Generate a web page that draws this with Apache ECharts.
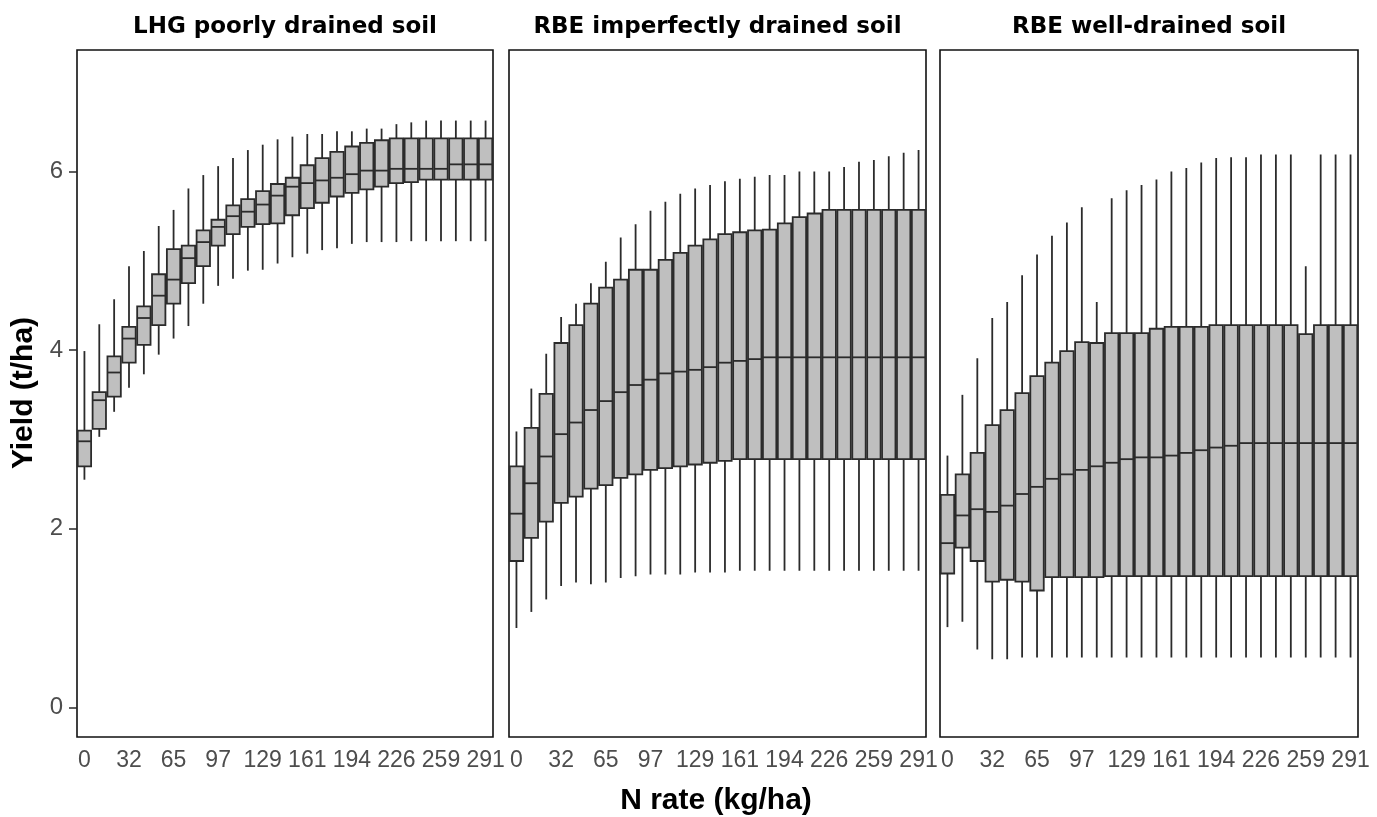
<!DOCTYPE html>
<html>
<head>
<meta charset="utf-8">
<title>N rate boxplots</title>
<script src="https://cdn.jsdelivr.net/npm/echarts@6/dist/echarts.min.js"></script>
<style>
  html, body { margin: 0; padding: 0; background: #fff; }
  #chart { width: 1377px; height: 817px; }
</style>
</head>
<body>
<div id="chart"></div>
<script>
// N rate categories (kg/ha); every third one is labelled
const nRates = ["0", "11", "22", "32", "43", "54", "65", "75", "86", "97", "108", "118", "129", "140",
  "151", "161", "172", "183", "194", "205", "215", "226", "237", "248", "259", "269", "280", "291"];
const yTicks = [0, 2, 4, 6];
const panelTitles = ["LHG poorly drained soil", "RBE imperfectly drained soil", "RBE well-drained soil"];

// LHG poorly drained soil (t/ha)
const lhgLow = [2.55, 3.03, 3.31, 3.58, 3.73, 3.95, 4.13, 4.27, 4.52, 4.72, 4.80, 4.89, 4.90, 4.97,
  5.04, 5.08, 5.12, 5.14, 5.19, 5.21, 5.21, 5.21, 5.22, 5.22, 5.22, 5.22, 5.22, 5.22];
const lhgQ1 = [2.70, 3.12, 3.48, 3.86, 4.06, 4.28, 4.52, 4.75, 4.94, 5.17, 5.30, 5.38, 5.41, 5.42,
  5.51, 5.59, 5.65, 5.72, 5.76, 5.80, 5.83, 5.87, 5.88, 5.91, 5.91, 5.91, 5.91, 5.91];
const lhgMed = [2.98, 3.44, 3.75, 4.13, 4.36, 4.61, 4.79, 5.03, 5.21, 5.38, 5.50, 5.55, 5.63, 5.73,
  5.83, 5.87, 5.90, 5.93, 5.97, 6.01, 6.01, 6.03, 6.03, 6.03, 6.03, 6.08, 6.08, 6.08];
const lhgQ3 = [3.10, 3.53, 3.93, 4.26, 4.49, 4.85, 5.13, 5.17, 5.34, 5.46, 5.62, 5.69, 5.78, 5.86,
  5.93, 6.07, 6.15, 6.22, 6.28, 6.32, 6.35, 6.37, 6.37, 6.37, 6.37, 6.37, 6.37, 6.37];
const lhgHigh = [3.99, 4.29, 4.57, 4.94, 5.11, 5.39, 5.57, 5.81, 5.96, 6.06, 6.15, 6.24, 6.30, 6.36,
  6.39, 6.42, 6.42, 6.45, 6.45, 6.48, 6.48, 6.53, 6.55, 6.57, 6.57, 6.57, 6.57, 6.57];

// RBE imperfectly drained soil (t/ha)
const rbeiLow = [0.89, 1.07, 1.21, 1.36, 1.40, 1.38, 1.40, 1.45, 1.47, 1.49, 1.49, 1.49, 1.51, 1.51,
  1.51, 1.53, 1.53, 1.53, 1.53, 1.53, 1.53, 1.53, 1.53, 1.53, 1.53, 1.53, 1.53, 1.53];
const rbeiQ1 = [1.64, 1.90, 2.08, 2.29, 2.36, 2.45, 2.49, 2.57, 2.61, 2.66, 2.68, 2.70, 2.72, 2.74,
  2.76, 2.78, 2.78, 2.78, 2.78, 2.78, 2.78, 2.78, 2.78, 2.78, 2.78, 2.78, 2.78, 2.78];
const rbeiMed = [2.17, 2.51, 2.81, 3.06, 3.19, 3.33, 3.43, 3.53, 3.61, 3.67, 3.74, 3.76, 3.78, 3.81,
  3.86, 3.88, 3.90, 3.92, 3.92, 3.92, 3.92, 3.92, 3.92, 3.92, 3.92, 3.92, 3.92, 3.92];
const rbeiQ3 = [2.70, 3.13, 3.51, 4.08, 4.28, 4.52, 4.70, 4.79, 4.90, 4.90, 5.01, 5.09, 5.17, 5.24,
  5.30, 5.32, 5.34, 5.35, 5.42, 5.49, 5.53, 5.57, 5.57, 5.57, 5.57, 5.57, 5.57, 5.57];
const rbeiHigh = [3.09, 3.57, 3.96, 4.37, 4.52, 4.75, 4.99, 5.26, 5.41, 5.56, 5.66, 5.75, 5.81, 5.85,
  5.89, 5.92, 5.94, 5.96, 5.96, 6.00, 6.00, 6.00, 6.05, 6.11, 6.13, 6.17, 6.21, 6.24];

// RBE well-drained soil (t/ha)
const rbewLow = [0.90, 0.96, 0.65, 0.54, 0.54, 0.56, 0.56, 0.56, 0.56, 0.56, 0.56, 0.56, 0.56, 0.56,
  0.56, 0.56, 0.56, 0.56, 0.56, 0.56, 0.56, 0.56, 0.56, 0.56, 0.56, 0.56, 0.56, 0.56];
const rbewQ1 = [1.50, 1.79, 1.64, 1.41, 1.43, 1.41, 1.31, 1.46, 1.46, 1.46, 1.46, 1.47, 1.47, 1.47,
  1.47, 1.47, 1.47, 1.47, 1.47, 1.47, 1.47, 1.47, 1.47, 1.47, 1.47, 1.47, 1.47, 1.47];
const rbewMed = [1.84, 2.15, 2.22, 2.19, 2.26, 2.39, 2.47, 2.56, 2.61, 2.66, 2.70, 2.74, 2.78, 2.80,
  2.80, 2.82, 2.85, 2.88, 2.91, 2.93, 2.96, 2.96, 2.96, 2.96, 2.96, 2.96, 2.96, 2.96];
const rbewQ3 = [2.38, 2.61, 2.85, 3.16, 3.33, 3.52, 3.71, 3.86, 3.99, 4.09, 4.08, 4.19, 4.19, 4.19,
  4.24, 4.26, 4.26, 4.26, 4.28, 4.28, 4.28, 4.28, 4.28, 4.28, 4.18, 4.28, 4.28, 4.28];
const rbewHigh = [2.82, 3.50, 3.91, 4.36, 4.54, 4.84, 5.07, 5.28, 5.43, 5.60, 4.54, 5.70, 5.79, 5.85,
  5.91, 6.00, 6.04, 6.10, 6.15, 6.16, 6.16, 6.19, 6.19, 6.19, 4.94, 6.19, 6.19, 6.19];

const panels = [
  [lhgLow, lhgQ1, lhgMed, lhgQ3, lhgHigh],
  [rbeiLow, rbeiQ1, rbeiMed, rbeiQ3, rbeiHigh],
  [rbewLow, rbewQ1, rbewMed, rbewQ3, rbewHigh],
];

const sans = "Liberation Sans, Arial, sans-serif";
const ink = "#2b2b2b";
const gridLefts = [77, 509, 940];
const gridWidths = [416, 417, 418];

function renderBox(params, api) {
  const i = api.value(0);
  const low = api.coord([i, api.value(1)]);
  const q1 = api.coord([i, api.value(2)]);
  const med = api.coord([i, api.value(3)]);
  const q3 = api.coord([i, api.value(4)]);
  const high = api.coord([i, api.value(5)]);
  const w = api.size([1, 0])[0] * 0.9;
  const x0 = med[0] - w / 2;
  const line = { stroke: ink, lineWidth: 1.8 };
  return {
    type: "group",
    children: [
      { type: "line", shape: { x1: low[0], y1: low[1], x2: high[0], y2: high[1] }, style: line },
      {
        type: "rect",
        shape: { x: x0, y: q3[1], width: w, height: q1[1] - q3[1] },
        style: { fill: "#bfbfbf", stroke: ink, lineWidth: 1.8 },
      },
      { type: "line", shape: { x1: x0, y1: med[1], x2: x0 + w, y2: med[1] }, style: line },
    ],
  };
}

const grid = [], xAxis = [], yAxis = [], series = [], graphic = [];
panels.forEach((p, k) => {
  grid.push({
    left: gridLefts[k], width: gridWidths[k], top: 50, height: 687,
    show: true, borderColor: "#111", borderWidth: 1.6,
  });
  xAxis.push({
    type: "category", gridIndex: k, data: nRates,
    axisLine: { show: false },
    axisTick: { interval: 2, alignWithLabel: true, length: 7, lineStyle: { color: ink, width: 1.5 } },
    axisLabel: { interval: 2, fontSize: 23, color: "#4d4d4d", margin: 12, fontFamily: sans },
    splitLine: { show: false },
  });
  yAxis.push({
    type: "value", gridIndex: k, min: -0.33, max: 7.36,
    axisLine: { show: false },
    splitLine: { show: false },
    axisTick: { show: k === 0, length: 8, customValues: yTicks, lineStyle: { color: ink, width: 1.5 } },
    axisLabel: { show: k === 0, customValues: yTicks, fontSize: 24, color: "#4d4d4d", margin: 14, fontFamily: sans },
  });
  series.push({
    type: "custom", xAxisIndex: k, yAxisIndex: k,
    renderItem: renderBox,
    encode: { x: 0, y: [1, 2, 3, 4, 5] },
    data: nRates.map((n, i) => [i, p[0][i], p[1][i], p[2][i], p[3][i], p[4][i]]),
  });
  graphic.push({
    type: "text", x: gridLefts[k] + gridWidths[k] / 2, y: 27,
    style: {
      text: panelTitles[k], fill: "#000", align: "center", verticalAlign: "middle",
      font: "bold 23px 'DejaVu Sans', sans-serif",
    },
  });
});

graphic.push({
  type: "text", x: 716, y: 801,
  style: { text: "N rate (kg/ha)", fill: "#000", align: "center", verticalAlign: "middle", font: "bold 30px " + sans },
});
graphic.push({
  type: "text", x: 24, y: 393, rotation: Math.PI / 2,
  style: { text: "Yield (t/ha)", fill: "#000", align: "center", verticalAlign: "middle", font: "bold 30px " + sans },
});

const chart = echarts.init(document.getElementById("chart"));
chart.setOption({
  animation: false,
  backgroundColor: "#fff",
  grid, xAxis, yAxis, series, graphic,
});
</script>
</body>
</html>
